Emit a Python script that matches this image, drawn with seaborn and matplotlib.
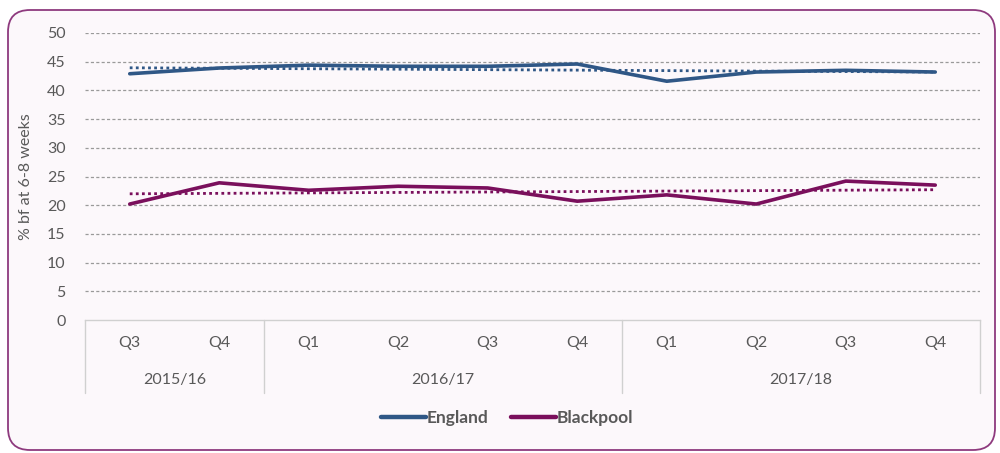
import numpy as np
import pandas as pd
import matplotlib
matplotlib.use("Agg")
import matplotlib.pyplot as plt
import seaborn as sns
from matplotlib.patches import FancyBboxPatch
from matplotlib.transforms import IdentityTransform, blended_transform_factory, offset_copy
from matplotlib.lines import Line2D

# ---- data ----
quarters = ["Q3", "Q4", "Q1", "Q2", "Q3", "Q4", "Q1", "Q2", "Q3", "Q4"]
years = ["2015/16", "2016/17", "2017/18"]
year_spans = [2, 4, 4]
england = [42.9, 43.9, 44.4, 44.2, 44.2, 44.6, 41.6, 43.2, 43.5, 43.2]
blackpool = [20.2, 23.9, 22.6, 23.3, 23.0, 20.7, 21.8, 20.2, 24.2, 23.5]
series_names = ["England", "Blackpool"]
colors = {"England": "#2F5786", "Blackpool": "#7A0F5C"}
y_ticks = list(range(0, 55, 5))

sns.set_theme(style="white")
plt.rcParams["font.family"] = ["Lato", "DejaVu Sans"]
text_color = "#595959"

pos = np.arange(len(quarters))
df = pd.DataFrame({
    "pos": np.concatenate([pos, pos]),
    "value": england + blackpool,
    "series": ["England"] * len(pos) + ["Blackpool"] * len(pos),
})

fig = plt.figure(figsize=(10, 4.53), dpi=100)
fig.patch.set_facecolor("white")
border = FancyBboxPatch((8, 3), 987, 440, boxstyle="round,pad=0,rounding_size=22",
                        transform=IdentityTransform(), facecolor="#FCF8FB",
                        edgecolor="#8E3A7E", linewidth=1.3, zorder=-10)
fig.patches.append(border)

ax = fig.add_axes([0.085, 1 - 320 / 453, 0.895, 287 / 453])
ax.set_facecolor("none")

for yv in y_ticks[1:]:
    ax.axhline(yv, color="#9A9A9A", linewidth=0.9, linestyle=(0, (2.5, 1.8)), zorder=0)

sns.lineplot(data=df, x="pos", y="value", hue="series", palette=colors,
             hue_order=series_names, linewidth=2.6, ax=ax, legend=False, zorder=3)

for name in series_names:
    sub = df[df["series"] == name]
    sns.regplot(data=sub, x="pos", y="value", scatter=False, ci=None, ax=ax,
                color=colors[name], truncate=True,
                line_kws={"linestyle": (0, (1, 1.2)), "linewidth": 2.0, "zorder": 2})

ax.set_xlim(-0.5, len(quarters) - 0.5)
ax.set_ylim(0, 50)
ax.set_yticks(y_ticks)
ax.set_yticklabels([str(v) for v in y_ticks], color=text_color, fontsize=11.5)
ax.tick_params(axis="y", length=0, pad=14)
ax.set_xticks(pos)
ax.set_xticklabels([])
ax.tick_params(axis="x", length=0)
for s in ["top", "right", "left"]:
    ax.spines[s].set_visible(False)
ax.spines["bottom"].set_color("#D0D0D0")
ax.spines["bottom"].set_linewidth(1.0)
ax.set_xlabel("")
ax.set_ylabel("% bf at 6-8 weeks", color=text_color, fontsize=11.5, labelpad=10)

trans = blended_transform_factory(ax.transData, ax.transAxes)
qtrans = offset_copy(trans, fig=fig, y=-23, units="dots")
ytrans = offset_copy(trans, fig=fig, y=-60, units="dots")
for p, q in zip(pos, quarters):
    ax.text(p, 0, q, transform=qtrans, ha="center", va="center", color=text_color, fontsize=11.5)

bounds = np.concatenate([[0], np.cumsum(year_spans)]) - 0.5
sep_bottom = -73 / 287
for b in bounds:
    ax.plot([b, b], [0, sep_bottom], transform=trans, color="#D0D0D0", linewidth=1.0, clip_on=False)
for i, yname in enumerate(years):
    c = (bounds[i] + bounds[i + 1]) / 2
    ax.text(c, 0, yname, transform=ytrans, ha="center", va="center", color=text_color, fontsize=11.5)

handles = [Line2D([0], [0], color=colors[n], linewidth=3.2) for n in series_names]
leg = fig.legend(handles, series_names, loc="center", bbox_to_anchor=(0.507, 1 - 418 / 453),
                 ncol=2, frameon=False, handlelength=2.6, handletextpad=0.05, columnspacing=1.3,
                 prop={"weight": "bold", "size": 12.5})
for t in leg.get_texts():
    t.set_color(text_color)

fig.savefig("out.png", dpi=100, facecolor="white")
